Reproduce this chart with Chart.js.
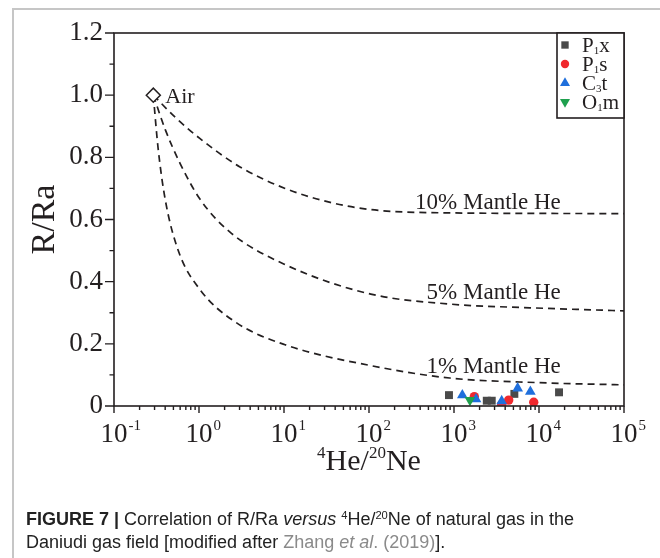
<!DOCTYPE html>
<html><head><meta charset="utf-8">
<script src="https://cdn.jsdelivr.net/npm/chart.js@4"></script>
<style>
html,body{margin:0;padding:0;background:#fff;}
#wrap{position:relative;width:660px;height:558px;overflow:hidden;background:#fff;}
#frame{position:absolute;left:12px;top:8px;width:700px;height:600px;border-left:2px solid #c6c6c6;border-top:2px solid #c6c6c6;}
canvas{position:absolute;left:0;top:0;}
#cap{position:absolute;left:26px;top:508px;font-family:'Liberation Sans',Arial,sans-serif;font-size:18px;line-height:23px;color:#222;white-space:nowrap;}
#cap sup{font-size:0.62em;line-height:0;vertical-align:0.55em;}
#cap .ref{color:#8a8a8a;}
</style></head><body>
<div id="wrap"><div id="frame"></div><canvas id="c" width="660" height="558"></canvas>
<div id="cap"><div id="l1"><b>FIGURE 7 |</b> Correlation of R/Ra <i>versus</i> <sup>4</sup>He/<sup>20</sup>Ne of natural gas in the</div><div id="l2">Daniudi gas field [modified after <span class="ref">Zhang <i>et al</i>. (2019)</span>].</div></div>
</div>
<script>
// ---------- data ----------
const xExponents = [-1, 0, 1, 2, 3, 4, 5];
const yTicks = [0, 0.2, 0.4, 0.6, 0.8, 1.0, 1.2];

const airX = [0.29];
const airY = [1.0];

const mix10X = [0.29, 0.52, 1.03, 3.0, 10.3, 35, 105, 525, 100000];
const mix10Y = [1.0, 0.93, 0.86, 0.77, 0.70, 0.655, 0.632, 0.622, 0.619];
const mix5X  = [0.29, 0.40, 0.60, 1.03, 2.3, 10.3, 105, 890, 7830, 100000];
const mix5Y  = [1.0, 0.89, 0.78, 0.665, 0.56, 0.455, 0.36, 0.328, 0.316, 0.306];
const mix1X  = [0.29, 0.33, 0.40, 0.57, 1.03, 2.65, 10.3, 105, 890, 10000, 100000];
const mix1Y  = [1.0, 0.83, 0.665, 0.50, 0.374, 0.271, 0.197, 0.13, 0.09, 0.075, 0.068];

const mixLabels = ['10% Mantle He', '5% Mantle He', '1% Mantle He'];
const mixLabelX = [18000, 18000, 18000];
const mixLabelY = [0.634, 0.345, 0.105];

const p1xX = [873, 2430, 2780, 5130, 17200];
const p1xY = [0.035, 0.017, 0.017, 0.039, 0.044];
const p1sX = [1734, 3640, 4400, 8670];
const p1sY = [0.030, 0.005, 0.019, 0.012];
const c3tX = [1253, 1815, 3640, 5610, 7910];
const c3tY = [0.035, 0.022, 0.016, 0.057, 0.046];
const o1mX = [1540];
const o1mY = [0.019];

const seriesBase = ['P', 'P', 'C', 'O'];
const seriesSub  = ['1', '1', '3', '1'];
const seriesTail = ['x', 's', 't', 'm'];
const seriesColor = ['#4a4a4a', '#f0282d', '#1f6fdc', '#1fa04e'];

// ---------- helpers ----------
const pts = (xs, ys) => xs.map((x, i) => ({x, y: ys[i]}));
const serif = "'Liberation Serif','Times New Roman',serif";
const ink = '#231f20';

function markerDataset(i, xs, ys, style, radius, rotation) {
  return {
    label: seriesBase[i] + seriesSub[i] + seriesTail[i],
    data: pts(xs, ys), showLine: false,
    pointStyle: style, pointRadius: radius, pointHoverRadius: radius,
    pointRotation: rotation || 0,
    backgroundColor: seriesColor[i], borderColor: seriesColor[i], borderWidth: 0,
    order: 4 - i
  };
}
function curveDataset(xs, ys) {
  return {
    data: pts(xs, ys), showLine: true, pointRadius: 0, borderColor: ink,
    borderWidth: 1.7, borderDash: [7, 5], cubicInterpolationMode: 'monotone',
    fill: false, order: 20
  };
}

function drawMarker(ctx, style, x, y, r, color, flip) {
  ctx.save();
  ctx.fillStyle = color;
  ctx.beginPath();
  if (style === 'rect') {
    const h = r * Math.SQRT1_2;
    ctx.rect(x - h, y - h, 2 * h, 2 * h);
  } else if (style === 'circle') {
    ctx.arc(x, y, r, 0, Math.PI * 2);
  } else if (style === 'triangle') {
    const s = flip ? -1 : 1;
    ctx.moveTo(x, y - s * r);
    ctx.lineTo(x + r * 0.866, y + s * r * 0.5);
    ctx.lineTo(x - r * 0.866, y + s * r * 0.5);
    ctx.closePath();
  }
  ctx.fill();
  ctx.restore();
}

const overlay = {
  id: 'overlay',
  afterDatasetsDraw(chart) {
    const ctx = chart.ctx;
    const a = chart.chartArea;
    const xs = chart.scales.x, ys = chart.scales.y;
    ctx.save();
    ctx.strokeStyle = ink; ctx.fillStyle = ink;

    // frame
    ctx.lineWidth = 1.6;
    ctx.strokeRect(a.left, a.top, a.right - a.left, a.bottom - a.top);

    // y ticks
    ctx.lineWidth = 1.4;
    ctx.beginPath();
    for (let i = 0; i < yTicks.length; i++) {
      const py = ys.getPixelForValue(yTicks[i]);
      ctx.moveTo(a.left - 9, py); ctx.lineTo(a.left, py);
      if (i < yTicks.length - 1) {
        const pm = ys.getPixelForValue((yTicks[i] + yTicks[i + 1]) / 2);
        ctx.moveTo(a.left - 4.5, pm); ctx.lineTo(a.left, pm);
      }
    }
    ctx.moveTo(a.left, a.bottom); ctx.lineTo(a.left, a.bottom + 5);
    // x ticks
    for (let i = 0; i < xExponents.length; i++) {
      const e = xExponents[i];
      const px = xs.getPixelForValue(Math.pow(10, e));
      ctx.moveTo(px, a.bottom); ctx.lineTo(px, a.bottom + 7);
      if (i < xExponents.length - 1) {
        for (let k = 2; k <= 9; k++) {
          const pm = xs.getPixelForValue(k * Math.pow(10, e));
          ctx.moveTo(pm, a.bottom); ctx.lineTo(pm, a.bottom + 4);
        }
      }
    }
    ctx.stroke();

    // x tick labels
    ctx.textBaseline = 'alphabetic';
    for (const e of xExponents) {
      const px = xs.getPixelForValue(Math.pow(10, e));
      ctx.font = '27px ' + serif;
      ctx.textAlign = 'center';
      ctx.fillText('10', px, 442);
      const w = ctx.measureText('10').width;
      ctx.font = '15px ' + serif;
      ctx.textAlign = 'left';
      ctx.fillText(String(e), px + w / 2 + 1, 430);
    }

    // x title 4He/20Ne
    const parts = [['4', 17, -12], ['He/', 30, 0], ['20', 17, -12], ['Ne', 30, 0]];
    let tw = 0;
    for (const p of parts) { ctx.font = p[1] + 'px ' + serif; tw += ctx.measureText(p[0]).width; }
    let tx = (a.left + a.right) / 2 - tw / 2;
    ctx.textAlign = 'left';
    for (const p of parts) {
      ctx.font = p[1] + 'px ' + serif;
      ctx.fillText(p[0], tx, 470 + p[2]);
      tx += ctx.measureText(p[0]).width;
    }

    // Air label
    const ax = xs.getPixelForValue(airX[0]), ay = ys.getPixelForValue(airY[0]);
    ctx.font = '22px ' + serif;
    ctx.textAlign = 'left';
    ctx.fillText('Air', ax + 12, ay + 8);

    // mixing line labels
    ctx.textAlign = 'right';
    for (let i = 0; i < mixLabels.length; i++) {
      ctx.font = '23px ' + serif;
      ctx.fillText(mixLabels[i], xs.getPixelForValue(mixLabelX[i]), ys.getPixelForValue(mixLabelY[i]));
    }

    // legend
    const lx = a.right - 67, ly = a.top, lw = 67, lh = 85;
    ctx.fillStyle = '#fff';
    ctx.fillRect(lx, ly, lw, lh);
    ctx.lineWidth = 1.6;
    ctx.strokeRect(lx, ly, lw, lh);
    const styles = ['rect', 'circle', 'triangle', 'triangle'];
    const radii = [5.2, 4.2, 5.8, 5.8];
    for (let i = 0; i < 4; i++) {
      const cy = ly + 12 + i * 19;
      drawMarker(ctx, styles[i], lx + 8, cy, radii[i], seriesColor[i], i === 3);
      ctx.fillStyle = ink;
      ctx.textAlign = 'left';
      let x0 = lx + 25;
      ctx.font = '21px ' + serif;
      ctx.fillText(seriesBase[i], x0, cy + 7);
      x0 += ctx.measureText(seriesBase[i]).width;
      ctx.font = '11px ' + serif;
      ctx.fillText(seriesSub[i], x0, cy + 9);
      x0 += ctx.measureText(seriesSub[i]).width;
      ctx.font = '21px ' + serif;
      ctx.fillText(seriesTail[i], x0, cy + 7);
    }
    ctx.restore();
  }
};

const chart = new Chart(document.getElementById('c'), {
  type: 'scatter',
  data: {
    datasets: [
      {data: pts(airX, airY), pointStyle: 'rectRot', pointRadius: 7, pointHoverRadius: 7,
       backgroundColor: '#fff', borderColor: ink, borderWidth: 1.5, showLine: false, order: 0},
      markerDataset(0, p1xX, p1xY, 'rect', 5.6),
      markerDataset(1, p1sX, p1sY, 'circle', 4.7),
      markerDataset(2, c3tX, c3tY, 'triangle', 6.2),
      markerDataset(3, o1mX, o1mY, 'triangle', 6.2, 180),
      curveDataset(mix10X, mix10Y),
      curveDataset(mix5X, mix5Y),
      curveDataset(mix1X, mix1Y)
    ]
  },
  options: {
    responsive: false, animation: false, devicePixelRatio: 1,
    layout: {padding: {left: 0, right: 36, top: 33, bottom: 0}},
    plugins: {legend: {display: false}, tooltip: {enabled: false}},
    scales: {
      x: {
        type: 'logarithmic', min: 0.1, max: 100000,
        grid: {display: false}, border: {display: false},
        ticks: {display: false},
        afterFit(s) { s.height = 152; }
      },
      y: {
        min: 0, max: 1.2,
        grid: {display: false, drawTicks: false}, border: {display: false},
        afterBuildTicks(s) { s.ticks = yTicks.map(v => ({value: v})); },
        ticks: {
          padding: 11, color: ink,
          font: {family: serif, size: 27},
          callback: v => (v === 0 ? '0' : Number(v).toFixed(1))
        },
        title: {display: true, text: 'R/Ra', color: ink, font: {family: serif, size: 34},
                padding: {top: 25, bottom: 0}},
        afterFit(s) { s.width = 114; }
      }
    }
  },
  plugins: [overlay]
});
</script>
</body></html>
